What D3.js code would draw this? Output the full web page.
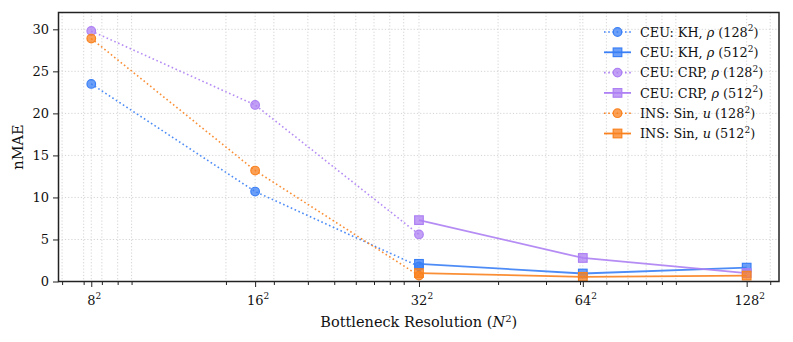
<!DOCTYPE html>
<html>
<head>
<meta charset="utf-8">
<script src="https://cdn.jsdelivr.net/npm/d3@7"></script>
<style>
  body { margin: 0; background: #fff; }
  svg { display: block; font-family: "DejaVu Serif", serif; }
</style>
</head>
<body>
<div id="chart"></div>
<script>
// 瓶颈分辨率 (N^2) 和刻度标签
const resolutions = [64, 256, 1024, 4096, 16384];
const resBase = ['8', '16', '32', '64', '128'];
const xs128 = [64, 256, 1024];
const xs512 = [1024, 4096, 16384];

// 各系列 nMAE
const khLow = [23.5, 10.7, 1.8];
const khHigh = [2.1, 0.95, 1.65];
const crpLow = [29.8, 21.0, 5.6];
const crpHigh = [7.3, 2.8, 1.0];
const insLow = [28.9, 13.2, 0.7];
const insHigh = [1.0, 0.55, 0.7];

const yTicks = [0, 5, 10, 15, 20, 25, 30];

const BLUE = '#3a7ff5', PURPLE = '#ad80f3', ORANGE = '#f9821f';
const FONT = '"DejaVu Serif", serif';

const series = [
  { name: 'CEU: KH, ', sym: 'ρ', res: '128', xs: xs128, ys: khLow, color: BLUE, dotted: true, marker: 'circle' },
  { name: 'CEU: KH, ', sym: 'ρ', res: '512', xs: xs512, ys: khHigh, color: BLUE, dotted: false, marker: 'square' },
  { name: 'CEU: CRP, ', sym: 'ρ', res: '128', xs: xs128, ys: crpLow, color: PURPLE, dotted: true, marker: 'circle' },
  { name: 'CEU: CRP, ', sym: 'ρ', res: '512', xs: xs512, ys: crpHigh, color: PURPLE, dotted: false, marker: 'square' },
  { name: 'INS: Sin, ', sym: 'u', res: '128', xs: xs128, ys: insLow, color: ORANGE, dotted: true, marker: 'circle' },
  { name: 'INS: Sin, ', sym: 'u', res: '512', xs: xs512, ys: insHigh, color: ORANGE, dotted: false, marker: 'square' }
];

const width = 793, height = 342;
const plot = { left: 58.5, right: 779, top: 12.5, bottom: 281.5 };

const svg = d3.select('#chart').append('svg')
  .attr('width', width).attr('height', height);

// 对数横轴，左右各留 5% 余量
const x = d3.scaleLog().domain([48.5, 21540]).range([plot.left, plot.right]);
const y = d3.scaleLinear().domain([0, 32]).range([plot.bottom, plot.top]);

// 次刻度：2..9 × 10^k，不含 10 的整数幂
const minorTicks = x.ticks().filter(t => {
  const lg = Math.log10(t);
  return Math.abs(lg - Math.round(lg)) > 1e-9;
});

// 网格线
const grid = svg.append('g')
  .attr('stroke', '#cfcfcf')
  .attr('stroke-width', 0.9)
  .attr('stroke-dasharray', '1.2,2');

grid.selectAll('.vg')
  .data(minorTicks.concat(resolutions))
  .enter().append('line')
  .attr('x1', d => x(d)).attr('x2', d => x(d))
  .attr('y1', plot.top).attr('y2', plot.bottom);

grid.selectAll('.hg')
  .data(yTicks)
  .enter().append('line')
  .attr('x1', plot.left).attr('x2', plot.right)
  .attr('y1', d => y(d)).attr('y2', d => y(d));

// 数据线和标记
const line = d3.line().x(d => x(d[0])).y(d => y(d[1]));
const marks = svg.append('g');

series.forEach(s => {
  const pts = s.xs.map((v, i) => [v, s.ys[i]]);
  marks.append('path')
    .datum(pts)
    .attr('d', line)
    .attr('fill', 'none')
    .attr('stroke', s.color)
    .attr('stroke-width', s.dotted ? 1.6 : 1.8)
    .attr('stroke-dasharray', s.dotted ? '1.6,2.6' : null)
    .attr('opacity', 0.9);

  drawMarkers(marks, pts.map(p => [x(p[0]), y(p[1])]), s);
});

function drawMarkers(g, coords, s) {
  if (s.marker === 'circle') {
    g.selectAll(null).data(coords).enter().append('circle')
      .attr('cx', d => d[0]).attr('cy', d => d[1]).attr('r', 4.3)
      .attr('fill', s.color).attr('fill-opacity', 0.75)
      .attr('stroke', s.color).attr('stroke-width', 1.2);
  } else {
    g.selectAll(null).data(coords).enter().append('rect')
      .attr('x', d => d[0] - 4.3).attr('y', d => d[1] - 4.3)
      .attr('width', 8.6).attr('height', 8.6)
      .attr('fill', s.color).attr('fill-opacity', 0.75)
      .attr('stroke', s.color).attr('stroke-width', 1.2);
  }
}

// 坐标轴
const xAxis = svg.append('g').attr('transform', `translate(0,${plot.bottom})`);
xAxis.call(d3.axisBottom(x).tickValues(minorTicks).tickSize(3.5).tickFormat(''));
xAxis.call(g => g.select('.domain').remove());
const xMajor = svg.append('g').attr('transform', `translate(0,${plot.bottom})`);
xMajor.call(d3.axisBottom(x).tickValues(resolutions).tickSize(5.5).tickFormat(''));
xMajor.select('.domain').remove();
svg.selectAll('.tick line').attr('stroke', '#222').attr('stroke-width', 1);

// 横轴标签 8^2 等
const xLabels = svg.append('g');
resolutions.forEach((r, i) => {
  const t = xLabels.append('text')
    .attr('x', x(r) + 3).attr('y', plot.bottom + 23)
    .attr('text-anchor', 'middle')
    .attr('font-size', 13).attr('fill', '#111');
  t.append('tspan').text(resBase[i]);
  t.append('tspan').attr('dy', -5.5).attr('font-size', 9).text('2');
});

const yAxis = svg.append('g').attr('transform', `translate(${plot.left},0)`);
yAxis.call(d3.axisLeft(y).tickValues(yTicks).tickSize(5.5).tickPadding(4));
yAxis.select('.domain').remove();
yAxis.selectAll('.tick line').attr('stroke', '#222');
yAxis.selectAll('.tick text')
  .attr('font-family', FONT)
  .attr('font-size', 13).attr('fill', '#111');

// 边框
svg.append('rect')
  .attr('x', plot.left).attr('y', plot.top)
  .attr('width', plot.right - plot.left).attr('height', plot.bottom - plot.top)
  .attr('fill', 'none').attr('stroke', '#222').attr('stroke-width', 1.5);

// 轴标题
const xt = svg.append('text')
  .attr('x', (plot.left + plot.right) / 2).attr('y', 327)
  .attr('text-anchor', 'middle').attr('font-size', 14.5).attr('fill', '#111');
xt.append('tspan').text('Bottleneck Resolution (');
xt.append('tspan').attr('font-style', 'italic').text('N');
xt.append('tspan').attr('dy', -5.5).attr('font-size', 10).text('2');
xt.append('tspan').attr('dy', 5.5).text(')');

svg.append('text')
  .attr('transform', `translate(23,${(plot.top + plot.bottom) / 2}) rotate(-90)`)
  .attr('text-anchor', 'middle').attr('font-size', 14.5).attr('fill', '#111')
  .text('nMAE');

// 图例
const legend = svg.append('g').attr('transform', 'translate(604,32)');
series.forEach((s, i) => {
  const row = legend.append('g').attr('transform', `translate(0,${i * 20.3})`);
  row.append('line')
    .attr('x1', 0).attr('x2', 27).attr('y1', 0).attr('y2', 0)
    .attr('stroke', s.color)
    .attr('stroke-width', s.dotted ? 1.6 : 1.8)
    .attr('stroke-dasharray', s.dotted ? '1.6,2.6' : null);
  drawMarkers(row, [[13.5, 0]], s);
  const t = row.append('text')
    .attr('x', 36).attr('y', 4.8)
    .attr('font-size', 12.8).attr('fill', '#111');
  t.append('tspan').text(s.name);
  t.append('tspan').attr('font-style', 'italic').text(s.sym);
  t.append('tspan').text(' (' + s.res);
  t.append('tspan').attr('dy', -5.5).attr('font-size', 9).text('2');
  t.append('tspan').attr('dy', 5.5).text(')');
});
</script>
</body>
</html>
